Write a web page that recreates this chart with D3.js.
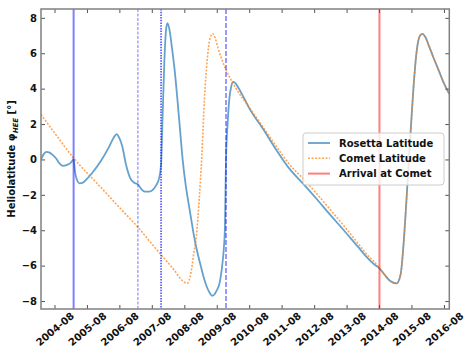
<!DOCTYPE html>
<html>
<head>
<meta charset="utf-8">
<script src="https://cdn.jsdelivr.net/npm/d3@7"></script>
<style>
  body { margin: 0; background: #fff; }
  text { font-family: "DejaVu Sans", sans-serif; font-weight: bold; }
</style>
</head>
<body>
<svg width="465" height="353"></svg>
<script>
"use strict";

// Rosetta heliolatitude
const rosettaDates = [
  "2004-03-02","2004-04-01","2004-05-01","2004-06-01","2004-07-01","2004-08-15","2004-10-01","2004-11-01",
  "2004-12-15","2005-02-01","2005-03-04","2005-03-20","2005-04-10","2005-05-10","2005-06-10","2005-08-01",
  "2005-10-01","2006-01-01","2006-04-01","2006-06-01","2006-07-01","2006-08-01","2006-09-01","2006-10-15",
  "2006-12-01","2007-01-15","2007-02-25","2007-04-01","2007-05-15","2007-07-01","2007-08-15","2007-09-20",
  "2007-10-20","2007-11-13","2007-12-01","2007-12-20","2008-01-10","2008-01-25","2008-02-15","2008-03-15",
  "2008-04-15","2008-05-15","2008-06-15","2008-07-15","2008-08-15","2008-09-15","2008-10-15","2008-11-15",
  "2008-12-15","2009-02-01","2009-03-15","2009-04-15","2009-05-15","2009-06-10","2009-07-01","2009-08-01",
  "2009-09-01","2009-10-01","2009-10-20","2009-11-01","2009-11-13","2009-12-01","2009-12-20","2010-01-10",
  "2010-02-01","2010-02-20","2010-04-01","2010-06-01","2010-08-01","2011-01-01","2011-06-01","2011-11-01",
  "2012-04-01","2012-09-01","2013-02-01","2013-07-01","2013-12-01","2014-04-01","2014-06-01","2014-08-06",
  "2014-10-01","2014-12-01","2015-02-15","2015-04-01","2015-05-01","2015-06-01","2015-07-01","2015-08-01",
  "2015-09-01","2015-10-01","2015-11-01","2015-12-01","2016-01-01","2016-02-15","2016-04-01","2016-06-01",
  "2016-08-01","2016-09-30"
];
const rosettaLat = [
  0.0, 0.3, 0.43, 0.4, 0.3, 0.08, -0.25, -0.36,
  -0.32, -0.18, 0.0, -0.7, -1.15, -1.35, -1.33, -1.1,
  -0.75, -0.12, 0.65, 1.25, 1.43, 1.2, 0.78, -0.3,
  -1.05, -1.32, -1.4, -1.65, -1.82, -1.82, -1.7, -1.45,
  -1.1, -0.3, 2.5, 5.5, 7.4, 7.7, 7.35, 6.3,
  5.0, 3.4, 1.6, -0.1, -1.4, -2.4, -3.3, -4.25,
  -5.0, -6.0, -6.8, -7.25, -7.55, -7.7, -7.65, -7.4,
  -7.0, -6.0, -5.0, -3.8, 0.0, 2.0, 3.4, 4.1,
  4.38, 4.35, 4.05, 3.5, 2.9, 1.75, 0.55, -0.55,
  -1.38, -2.25, -3.15, -4.0, -4.9, -5.6, -5.9, -6.15,
  -6.5, -6.85, -7.0, -6.5, -5.0, -2.7, -0.2, 2.3,
  4.6, 6.2, 6.95, 7.1, 6.95, 6.4, 5.8, 5.05,
  4.3, 3.7
];

// comet 67P heliolatitude
const cometDates = [
  "2004-03-02","2004-08-01","2005-03-01","2006-01-01","2006-08-01","2007-03-01","2007-08-01","2008-01-01",
  "2008-04-01","2008-07-01","2008-09-01","2008-10-15","2008-11-15","2008-12-15","2009-01-15","2009-02-15",
  "2009-03-15","2009-04-15","2009-05-15","2009-06-15","2009-07-15","2009-08-15","2009-10-01","2009-11-15",
  "2010-03-01","2010-08-01","2011-01-01","2011-06-01","2011-11-01","2012-04-01","2012-09-01","2013-02-01",
  "2013-07-01","2013-12-01","2014-04-01","2014-06-01","2014-08-06","2014-10-01","2014-12-01","2015-02-15",
  "2015-04-01","2015-05-01","2015-06-01","2015-07-01","2015-08-01","2015-09-01","2015-10-01","2015-11-01",
  "2015-12-01","2016-01-01","2016-02-15","2016-04-01","2016-06-01","2016-08-01","2016-09-30"
];
const cometLat = [
  2.55, 1.5, 0.1, -1.56, -2.71, -3.85, -4.77, -5.67,
  -6.2, -6.8, -7.0, -6.4, -5.3, -4.3, -2.3, 0.3,
  3.4, 5.6, 6.8, 7.1, 6.85, 6.3, 5.6, 5.05,
  4.05, 2.95, 1.85, 0.75, -0.3, -1.1, -1.95, -2.85,
  -3.75, -4.7, -5.45, -5.75, -6.15, -6.5, -6.85, -7.0,
  -6.5, -5.0, -2.7, -0.2, 2.3, 4.6, 6.2, 6.95,
  7.1, 6.95, 6.4, 5.8, 5.05, 4.3, 3.7
];

// flybys: Earth, Mars, Earth, Earth
const flybyDates = ["2005-03-04", "2007-02-25", "2007-11-13", "2009-11-13"];
const arrivalDate = "2014-08-06";

const xTickLabels = ["2004-08","2005-08","2006-08","2007-08","2008-08","2009-08","2010-08",
  "2011-08","2012-08","2013-08","2014-08","2015-08","2016-08"];
const yTicks = [-8, -6, -4, -2, 0, 2, 4, 6, 8];
const legendLabels = ["Rosetta Latitude", "Comet Latitude", "Arrival at Comet"];

const parseDay = d3.timeParse("%Y-%m-%d");
const parseMonth = d3.timeParse("%Y-%m");

const svg = d3.select("svg");
const pLeft = 41, pRight = 449.3, pTop = 9, pBottom = 309;

const x = d3.scaleTime()
  .domain([parseDay("2004-03-02"), parseDay("2016-09-30")])
  .range([pLeft, pRight]);
const y = d3.scaleLinear().domain([-8.45, 8.5]).range([pBottom, pTop]);

const rosetta = rosettaDates.map((d, i) => ({ date: parseDay(d), v: rosettaLat[i] }));
const comet = cometDates.map((d, i) => ({ date: parseDay(d), v: cometLat[i] }));

const line = d3.line()
  .x(d => x(d.date))
  .y(d => y(d.v))
  .curve(d3.curveMonotoneX);

svg.append("clipPath").attr("id", "plot")
  .append("rect").attr("x", pLeft).attr("y", pTop)
  .attr("width", pRight - pLeft).attr("height", pBottom - pTop);

const plot = svg.append("g").attr("clip-path", "url(#plot)");

plot.append("path")
  .datum(rosetta)
  .attr("d", line)
  .style("fill", "none")
  .style("stroke", "#4a90c4")
  .style("stroke-width", 1.8)
  .style("opacity", 0.85);

plot.append("path")
  .datum(comet)
  .attr("d", line)
  .style("fill", "none")
  .style("stroke", "#ff7f0e")
  .style("stroke-width", 1.6)
  .style("stroke-dasharray", "2,1.5")
  .style("opacity", 0.7);

// flyby lines, each with its own look
const flybyStyle = [
  { op: 0.5, w: 2, dash: null },
  { op: 0.35, w: 1.5, dash: "3,1.5" },
  { op: 0.85, w: 1.3, dash: "1.5,1.2" },
  { op: 0.4, w: 2, dash: "5,2" }
];
flybyDates.forEach((d, i) => {
  const fx = x(parseDay(d));
  plot.append("line")
    .attr("x1", fx).attr("x2", fx).attr("y1", pTop).attr("y2", pBottom)
    .style("stroke", "#0000ff")
    .style("stroke-width", flybyStyle[i].w)
    .style("stroke-dasharray", flybyStyle[i].dash)
    .style("opacity", flybyStyle[i].op);
});

const ax = x(parseDay(arrivalDate));
plot.append("line")
  .attr("x1", ax).attr("x2", ax).attr("y1", pTop).attr("y2", pBottom)
  .style("stroke", "#ff0000")
  .style("stroke-width", 2)
  .style("opacity", 0.5);

// axes, ticks pointing in
const xTicks = xTickLabels.map(parseMonth);

const gx = svg.append("g").attr("transform", `translate(0,${pBottom})`)
  .call(d3.axisBottom(x).tickValues(xTicks).tickFormat(d3.timeFormat("%Y-%m"))
    .tickSizeInner(-4).tickSizeOuter(0));
gx.selectAll("text")
  .attr("y", null).attr("dy", null)
  .attr("text-anchor", "middle")
  .attr("dominant-baseline", "central")
  .attr("transform", "translate(0,20) rotate(-40)")
  .style("font-size", "10px")
  .style("fill", "#111");

svg.append("g").attr("transform", `translate(0,${pTop})`)
  .call(d3.axisTop(x).tickValues(xTicks).tickFormat("").tickSizeInner(-4).tickSizeOuter(0));

const gy = svg.append("g").attr("transform", `translate(${pLeft},0)`)
  .call(d3.axisLeft(y).tickValues(yTicks).tickFormat(d3.format("d"))
    .tickSizeInner(-4).tickSizeOuter(0).tickPadding(4));
gy.selectAll("text").style("font-size", "10px").style("fill", "#111");

svg.append("g").attr("transform", `translate(${pRight},0)`)
  .call(d3.axisRight(y).tickValues(yTicks).tickFormat("").tickSizeInner(-4).tickSizeOuter(0));

svg.selectAll(".domain").remove();
svg.selectAll(".tick line").style("stroke", "#555");

svg.append("rect")
  .attr("x", pLeft).attr("y", pTop)
  .attr("width", pRight - pLeft).attr("height", pBottom - pTop)
  .style("fill", "none")
  .style("stroke", "#808080")
  .style("stroke-width", 1.5);

// y label
const yl = svg.append("text")
  .attr("transform", `translate(15,${(pTop + pBottom) / 2}) rotate(-90)`)
  .attr("text-anchor", "middle")
  .style("font-size", "10px")
  .style("fill", "#111");
yl.append("tspan").text("Heliolatitude φ");
yl.append("tspan").attr("dy", 2.5).style("font-size", "7px").style("font-style", "italic").text("HEE");
yl.append("tspan").attr("dy", -2.5).text(" [°]");

// legend
const lg = svg.append("g").attr("transform", "translate(303,133)");
lg.append("rect")
  .attr("width", 141).attr("height", 52).attr("rx", 3)
  .style("fill", "#fff").style("fill-opacity", 0.8)
  .style("stroke", "#ccc");
const legendStyle = [
  { c: "#4a90c4", w: 1.8, dash: null, op: 0.85 },
  { c: "#ff7f0e", w: 1.6, dash: "2,1.5", op: 0.7 },
  { c: "#ff0000", w: 2, dash: null, op: 0.5 }
];
legendLabels.forEach((t, i) => {
  const ly = 10 + i * 15.3;
  lg.append("line")
    .attr("x1", 5).attr("x2", 27).attr("y1", ly).attr("y2", ly)
    .style("stroke", legendStyle[i].c)
    .style("stroke-width", legendStyle[i].w)
    .style("stroke-dasharray", legendStyle[i].dash)
    .style("opacity", legendStyle[i].op);
  lg.append("text")
    .attr("x", 36).attr("y", ly + 3.6)
    .style("font-size", "10px")
    .style("fill", "#111")
    .text(t);
});
</script>
</body>
</html>
